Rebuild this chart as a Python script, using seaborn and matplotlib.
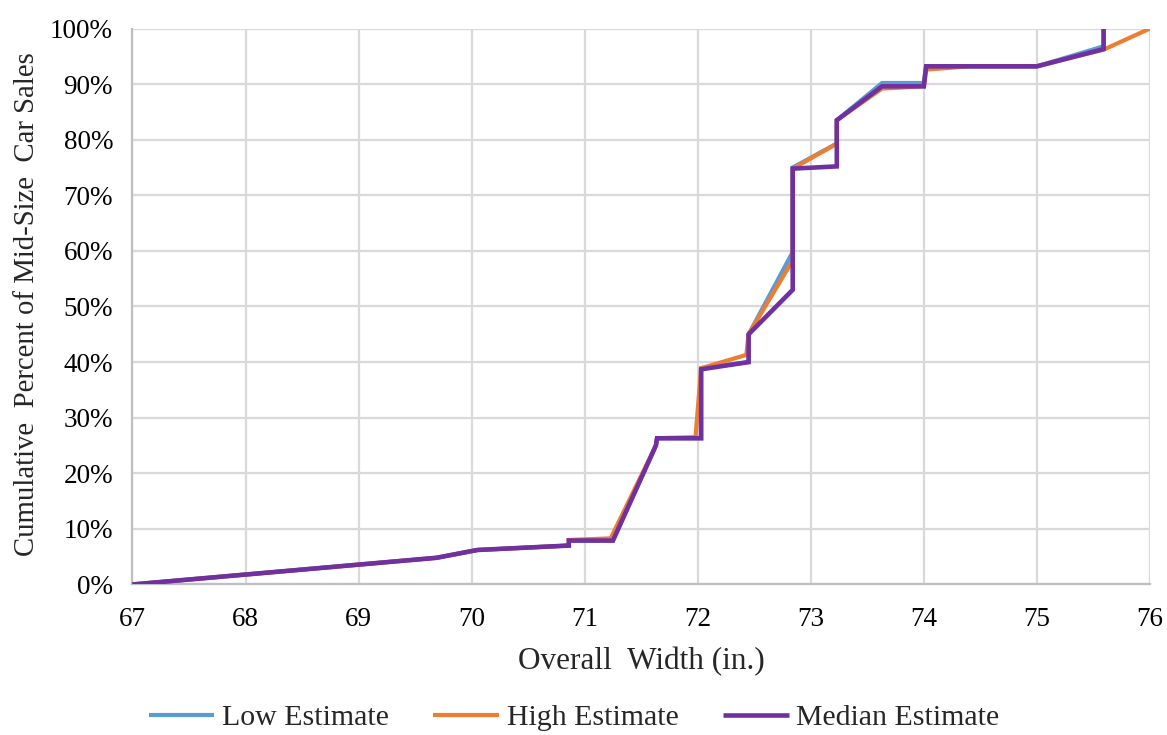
import numpy as np
import pandas as pd
import matplotlib
matplotlib.use("Agg")
import matplotlib.pyplot as plt
import seaborn as sns
from matplotlib.ticker import FuncFormatter

# Data (overall width in inches, cumulative percent)
low_x = [67, 69.69, 70.05, 70.86, 70.86, 71.25, 71.63, 71.64, 72.03, 72.03, 72.45, 72.45,
         72.84, 72.84, 73.23, 73.23, 73.63, 74.0, 74.02, 75.0, 75.59, 75.59]
low_y = [0, 4.8, 6.2, 7.0, 7.9, 7.9, 25.0, 26.3, 26.3, 38.9, 40.0, 45.0,
         59.8, 75.0, 79.3, 83.5, 90.2, 90.2, 93.2, 93.2, 96.8, 100]

high_x = [67, 69.69, 70.05, 70.86, 70.86, 71.23, 71.63, 71.64, 71.98, 72.03, 72.43, 72.45,
          72.84, 72.84, 73.23, 73.23, 73.63, 74.0, 74.02, 74.4, 75.0, 75.59, 76]
high_y = [0, 4.8, 6.2, 7.0, 8.0, 8.3, 25.0, 26.3, 26.5, 38.9, 41.3, 45.0,
          58.3, 74.8, 79.3, 83.5, 89.2, 89.6, 92.6, 93.2, 93.2, 96.2, 100]

med_x = [67, 69.69, 70.05, 70.86, 70.86, 71.25, 71.63, 71.64, 72.03, 72.03, 72.45, 72.45,
         72.84, 72.84, 73.23, 73.23, 73.63, 74.0, 74.02, 75.0, 75.59, 75.59]
med_y = [0, 4.8, 6.2, 7.0, 7.9, 7.9, 25.0, 26.3, 26.3, 38.7, 40.0, 45.0,
         53.0, 74.8, 75.2, 83.5, 89.6, 89.6, 93.2, 93.2, 96.3, 100]

series_names = ["Low Estimate", "High Estimate", "Median Estimate"]
colors = ["#5B9BD5", "#ED7D31", "#7030A0"]
x_ticks = [67, 68, 69, 70, 71, 72, 73, 74, 75, 76]
y_ticks = [0, 10, 20, 30, 40, 50, 60, 70, 80, 90, 100]

frames = []
for name, xs, ys in zip(series_names, [low_x, high_x, med_x], [low_y, high_y, med_y]):
    frames.append(pd.DataFrame({"width": xs, "pct": ys, "series": name,
                                "order": np.arange(len(xs))}))
df = pd.concat(frames, ignore_index=True)

sns.set_theme(style="white")
plt.rcParams["font.family"] = ["Liberation Serif", "DejaVu Serif"]

fig = plt.figure(figsize=(11.67, 7.35), dpi=100)
ax = fig.add_axes([0.1135, 0.2048, 0.8719, 0.7564])

widths = {"Low Estimate": 3.0, "High Estimate": 3.0, "Median Estimate": 3.3}
for name, col in zip(series_names, colors):
    sub = df[df["series"] == name]
    sns.lineplot(data=sub, x="width", y="pct", sort=False, estimator=None,
                 color=col, linewidth=widths[name], ax=ax, label=name,
                 solid_joinstyle="miter", solid_capstyle="butt", zorder=3)

ax.set_xlim(67, 76)
ax.set_ylim(0, 100)
ax.set_xticks(x_ticks)
ax.set_yticks(y_ticks)
ax.yaxis.set_major_formatter(FuncFormatter(lambda v, p: f"{int(v)}%"))
ax.grid(True, color="#D9D9D9", linewidth=1.6, zorder=0)
ax.set_axisbelow(True)
for s in ["top", "right"]:
    ax.spines[s].set_visible(False)
for s in ["left", "bottom"]:
    ax.spines[s].set_color("#BFBFBF")
    ax.spines[s].set_linewidth(1.6)
ax.tick_params(axis="both", length=0, labelsize=19.5, colors="black")
ax.tick_params(axis="x", pad=16)
ax.tick_params(axis="y", pad=14)
ax.set_xlabel("Overall  Width (in.)", fontsize=22.5)
ax.set_ylabel("Cumulative  Percent of Mid-Size  Car Sales", fontsize=20.7)
ax.xaxis.set_label_coords(0.5, -0.139)
ax.yaxis.set_label_coords(-0.104, 0.504)
ax.xaxis.label.set_va("center")
ax.yaxis.label.set_va("center")

ax.get_legend().remove()
handles, labels = ax.get_legend_handles_labels()
leg = fig.legend(handles, labels, loc="center", bbox_to_anchor=(574 / 1167, 1 - 718 / 735),
                 ncol=3, frameon=False, fontsize=21.5, handlelength=2.2,
                 columnspacing=1.5, handletextpad=0.25)

fig.savefig("out.png", dpi=100)
